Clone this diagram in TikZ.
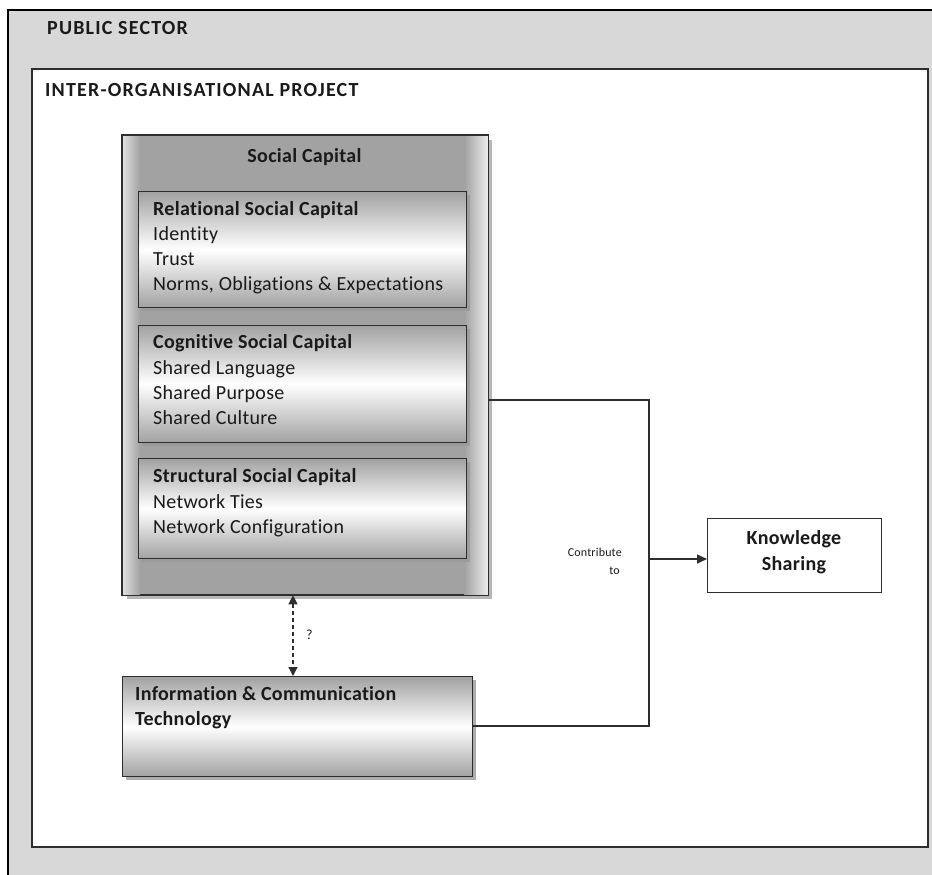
\documentclass[tikz,border=0pt]{standalone}
\usepackage{fontspec}
\setmainfont{Carlito}[Ligatures={NoCommon,NoContextual}]
\newfontfamily\bodyfont{Carlito}[Ligatures={NoCommon,NoContextual}, LetterSpace=1.5]
\newfontfamily\capsfont{Carlito}[Ligatures={NoCommon,NoContextual}, LetterSpace=6]
\usetikzlibrary{arrows.meta,shadows}

\definecolor{sectorgray}{HTML}{D8D8D8}
\definecolor{shadegray}{HTML}{A2A2A2}
\definecolor{edgelight}{HTML}{E2E2E2}
\definecolor{linedark}{HTML}{2E2E2E}
\definecolor{inkdark}{HTML}{1A1A1A}

\begin{document}
\begin{tikzpicture}[x=1pt,y=-1pt,
  every node/.style={text=inkdark},
  plain/.style={font=\bodyfont\fontsize{20}{24}\selectfont, inner sep=0pt, anchor=base west},
  heading/.style={font=\bodyfont\fontsize{20}{24}\selectfont\bfseries, inner sep=0pt, anchor=base west},
  capshead/.style={font=\capsfont\fontsize{20}{24}\selectfont\bfseries, inner sep=0pt, anchor=base west},
  tiny/.style={font=\bodyfont\fontsize{12}{14}\selectfont, inner sep=0pt, anchor=base east},
  boxline/.style={draw=linedark, line width=1.3pt, rectangle, inner sep=0pt, anchor=north west},
  bandbox/.style={boxline, top color=shadegray, bottom color=shadegray, middle color=white,
    drop shadow={shadow xshift=3pt, shadow yshift=-3pt, fill=black!40, opacity=0.8}},
  link/.style={draw=linedark, line width=1.2pt},
  tip/.style={-{Triangle[length=10pt,width=9pt]}}
]
\useasboundingbox (0,0) rectangle (932,875);
\clip (0,0) rectangle (932,875);
\fill[white] (0,0) rectangle (932,875);

% public sector frame (runs off the right and bottom)
\node[boxline, draw=black, line width=2pt, fill=sectorgray,
      minimum width=940pt, minimum height=880pt] (sector) at (7,9) {};
\node[capshead] (sectorlbl) at (47,35) {PUBLIC SECTOR};

% inter-organisational project frame
\node[boxline, line width=1.6pt, fill=white,
      drop shadow={shadow xshift=1.5pt, shadow yshift=-1.5pt, fill=black!30, opacity=0.7},
      minimum width=896pt, minimum height=778pt] (project) at (31,68) {};
\node[capshead] (projectlbl) at (45,96) {INTER-ORGANISATIONAL PROJECT};

% social capital: grey body with light side margins
\node[boxline, fill=shadegray, minimum width=365pt, minimum height=459pt,
      drop shadow={shadow xshift=4pt, shadow yshift=-4pt, fill=black!35, opacity=0.8}] (sc) at (122,135) {};
\shade[left color=edgelight, right color=shadegray]
  (sc.north west) rectangle ([xshift=18pt]sc.south west);
\shade[left color=shadegray, right color=white!93!black]
  ([xshift=-24pt]sc.north east) rectangle (sc.south east);
\draw[draw=linedark, line width=1.3pt] (sc.north west) rectangle (sc.south east);
\node[heading, anchor=base] (sclbl) at (304.5,162) {Social Capital};

\node[bandbox, minimum width=328pt, minimum height=116pt] (rel) at (138,191) {};
\node[heading] (rel0) at (153,215) {Relational Social Capital};
\node[plain]   (rel1) at (153,240) {Identity};
\node[plain]   (rel2) at (153,265) {Trust};
\node[plain]   (rel3) at (153,290) {Norms, Obligations \& Expectations};

\node[bandbox, minimum width=328pt, minimum height=117pt] (cog) at (138,325) {};
\node[heading] (cog0) at (153,348) {Cognitive Social Capital};
\node[plain]   (cog1) at (153,374) {Shared Language};
\node[plain]   (cog2) at (153,399) {Shared Purpose};
\node[plain]   (cog3) at (153,424) {Shared Culture};

\node[bandbox, minimum width=328pt, minimum height=100pt] (str) at (138,458) {};
\node[heading] (str0) at (153,482) {Structural Social Capital};
\node[plain]   (str1) at (153,508) {Network Ties};
\node[plain]   (str2) at (153,533) {Network Configuration};

% information and communication technology
\node[bandbox, minimum width=350pt, minimum height=100pt] (ict) at (122,676) {};
\node[heading] (ict0) at (135,700) {Information \& Communication};
\node[heading] (ict1) at (135,725) {Technology};

% outcome
\node[boxline, fill=white, minimum width=174pt, minimum height=74pt] (ks) at (707,518) {};
\node[heading, anchor=base] (ks0) at (794,544) {Knowledge};
\node[heading, anchor=base] (ks1) at (794,570) {Sharing};

% joint contribution to knowledge sharing
\coordinate (jtop) at (649,400);
\coordinate (jbot) at (649,726);
\coordinate (jmid) at (649,559);
\draw[link] (sc.east |- jtop) -- (jtop) -- (jbot) -- (ict.east |- jbot);
\draw[link, tip] (jmid) -- (ks.west |- jmid);
\node[tiny] (contrib0) at (622,556) {Contribute};
\node[tiny] (contrib1) at (620,574) {to};

% uncertain link between social capital and ICT
\coordinate (qx) at (293,0);
\draw[link, line width=1.2pt, dash pattern=on 4pt off 3pt,
      {Triangle[length=9pt,width=9pt]}-{Triangle[length=9pt,width=9pt]}]
  (sc.south -| qx) -- (ict.north -| qx);
\node[font=\bodyfont\fontsize{14}{16}\selectfont, inner sep=0pt, anchor=base west] (qmark) at (306,639) {?};
\end{tikzpicture}
\end{document}
